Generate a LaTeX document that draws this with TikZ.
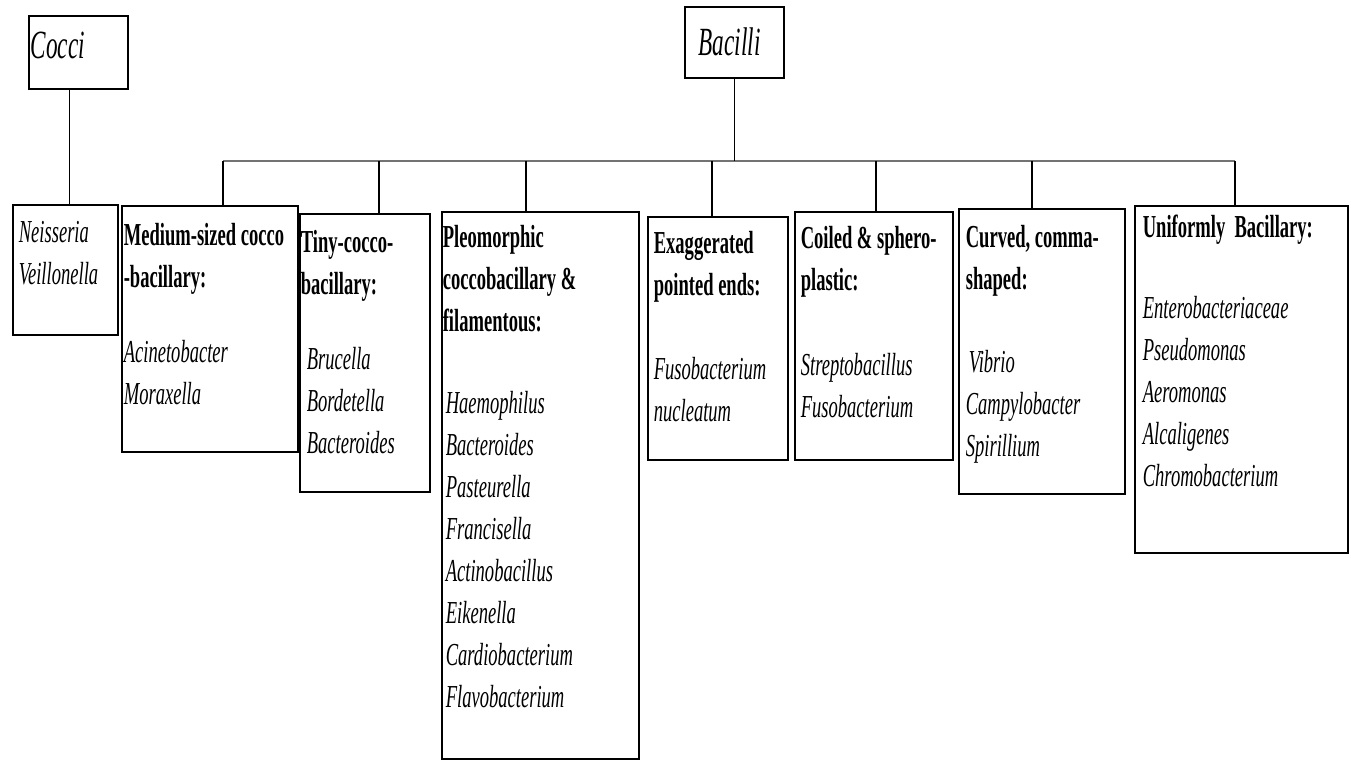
\documentclass[tikz,border=0pt]{standalone}
\usepackage{fontspec}
\setmainfont{Liberation Serif}[FakeStretch=0.58]
% fixed-size cell: width, height, left skip, first baseline, body
\newcommand{\cellbox}[5]{\parbox[t][#2][t]{#1}{\raggedright\leftskip=#3\relax\rule{0pt}{#4}#5}}

\begin{document}
\begin{tikzpicture}[x=1pt, y=-1pt,
  box/.style={draw, line width=1.6pt, inner sep=0pt, anchor=north west},
  top/.style={box, font=\fontsize{40}{48}\selectfont\itshape},
  cell/.style={box, font=\fontsize{32}{42}\selectfont},
  link/.style={line width=1.2pt},
  bus/.style={line width=2.4pt, black!55}]
\useasboundingbox (0,0) rectangle (1351,763);
% top level
\node[top] (cocci) at (28,15) {\cellbox{99pt}{73pt}{2pt}{43pt}{Cocci}};
\node[top] (bac) at (684,6) {\cellbox{99pt}{71pt}{14pt}{49pt}{Bacilli}};
% second level
\node[cell] (nei) at (12,204) {\cellbox{105pt}{130pt}{6pt}{38pt}{\itshape Neisseria\\Veillonella}};
\node[cell] (med) at (121,205) {\cellbox{176pt}{246pt}{2pt}{40pt}{\bfseries Medium-sized cocco\\-bacillary:\\[33pt]\mdseries\itshape Acinetobacter\\Moraxella}};
\node[cell] (tiny) at (299,213) {\cellbox{130pt}{278pt}{1pt}{39pt}{\bfseries Tiny-cocco-\\bacillary:\\[33pt]\mdseries\itshape\hspace*{6pt}Brucella\\\hspace*{6pt}Bordetella\\\hspace*{6pt}Bacteroides}};
\node[cell] (pleo) at (441,211) {\cellbox{197pt}{547pt}{1pt}{36pt}{\bfseries Pleomorphic\\coccobacillary \&\\filamentous:\\[40pt]\mdseries\itshape\hspace*{3pt}Haemophilus\\\hspace*{3pt}Bacteroides\\\hspace*{3pt}Pasteurella\\\hspace*{3pt}Francisella\\\hspace*{3pt}Actinobacillus\\\hspace*{3pt}Eikenella\\\hspace*{3pt}Cardiobacterium\\\hspace*{3pt}Flavobacterium}};
\node[cell] (exag) at (647,216) {\cellbox{140pt}{243pt}{6pt}{37pt}{\bfseries Exaggerated\\pointed ends:\\[42pt]\mdseries\itshape Fusobacterium\\nucleatum}};
\node[cell] (coil) at (794,211) {\cellbox{158pt}{248pt}{6pt}{37pt}{\bfseries Coiled \& sphero-\\plastic:\\[43pt]\mdseries\itshape Streptobacillus\\Fusobacterium}};
\node[cell] (curv) at (958,208) {\cellbox{166pt}{285pt}{7pt}{39pt}{\bfseries Curved, comma-\\shaped:\\[41pt]\mdseries\itshape\hspace*{3pt}Vibrio\\Campylobacter\\Spirillium}};
\node[cell] (unif) at (1134,205) {\cellbox{213pt}{347pt}{8pt}{32pt}{\bfseries Uniformly\ \ Bacillary:\\[39pt]\mdseries\itshape Enterobacteriaceae\\Pseudomonas\\Aeromonas\\Alcaligenes\\Chromobacterium}};
% connectors
\draw[link] ([xshift=-8.5pt]cocci.south) -- ([xshift=4.5pt]nei.north);
\foreach \n/\x in {med/223, tiny/379, pleo/526, exag/712, coil/876, curv/1032, unif/1235}
  \coordinate (j\n) at (\x,161);
\draw[bus] (jmed) -- (junif);
\draw[link] (bac.south) -- (bac.south |- jmed);
\foreach \n in {med, tiny, pleo, exag, coil, curv, unif}
  \draw[link] (j\n) -- (j\n |- \n.north);
\end{tikzpicture}
\end{document}
